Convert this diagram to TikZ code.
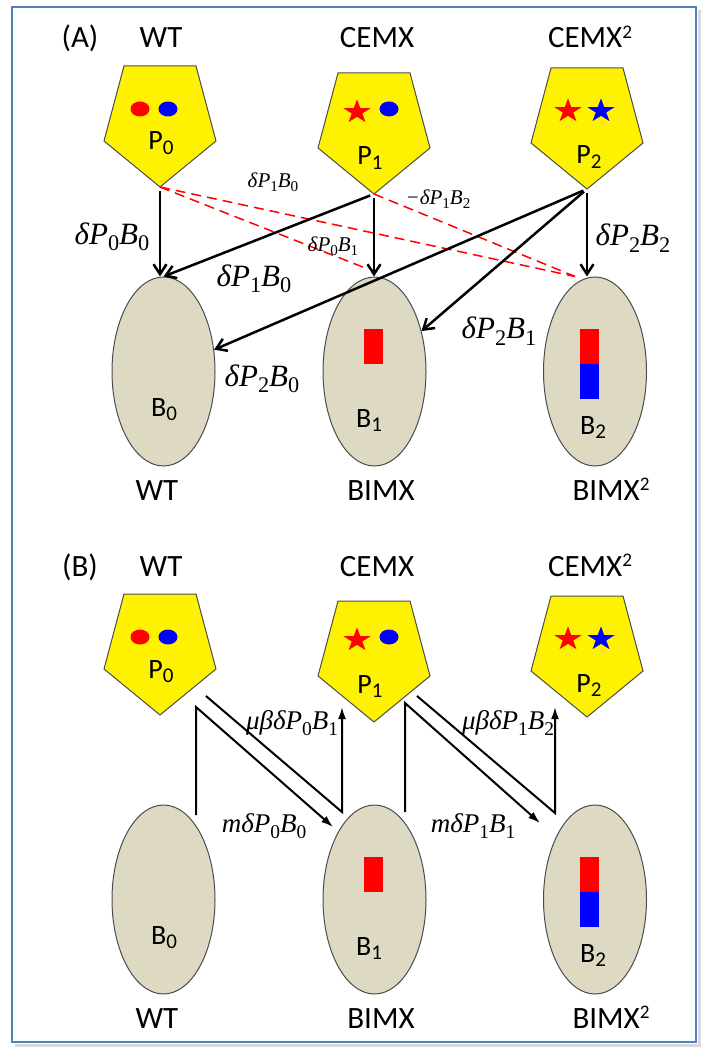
\documentclass[tikz,border=0pt]{standalone}
\usepackage{fontspec}
\setmainfont{Carlito}
\newfontfamily\tms{Liberation Serif}
\usepackage{tikz}
\usetikzlibrary{shapes.geometric, arrows.meta, positioning, calc}
\definecolor{framebl}{RGB}{79,129,189}
\definecolor{khaki}{RGB}{221,217,195}
\tikzset{>={Straight Barb[length=5pt,width=6.5pt]}}
\newcommand{\sbs}[1]{\raisebox{-0.45ex}{\upshape\scalebox{0.72}{#1}}}
\newcommand{\sqr}{\raisebox{0.62ex}{\scalebox{0.62}{2}}}
\newcommand{\plo}[1]{\raisebox{-0.35ex}{\scalebox{0.75}{#1}}}

\begin{document}
\begin{tikzpicture}[x=0.5pt,y=-0.5pt,
    head/.style={font=\fontsize{15.5}{18}\selectfont, anchor=base},
    plab/.style={font=\fontsize{14}{16}\selectfont, anchor=base},
    pent/.style={fill=yellow, draw=black!70, line width=0.5pt},
    bell/.style={ellipse, fill=khaki, draw=black!70, line width=0.5pt, inner sep=0pt,
                 minimum width=51.5pt, minimum height=94.5pt},
    spot/.style={ellipse, inner sep=0pt, minimum width=9.5pt, minimum height=7.5pt},
    spark/.style={star, star points=5, star point ratio=2.6, inner sep=0pt,
                  minimum size=12.5pt, xscale=1.15},
    ratebig/.style={font=\tms\itshape\fontsize{15.5}{18}\selectfont},
    ratesmall/.style={font=\tms\itshape\fontsize{10.5}{12}\selectfont},
    ratemid/.style={font=\tms\itshape\fontsize{13.5}{16}\selectfont},
    flow/.style={->, line width=1.25pt, shorten <=2pt},
    leak/.style={red, dash pattern=on 5pt off 3pt, line width=0.75pt},
    hop/.style={-{Latex[length=6pt,width=4pt]}, line width=1pt}]
    \useasboundingbox (0,0) rectangle (707,1058);
    % frame
    \draw[black!15, line width=1.5pt] (15,1045) -- (699,1045) -- (699,10);
    \draw[framebl, line width=1pt] (12,7) rectangle (696,1042);

    \foreach \pn/\dy/\lt in {a/0/A, b/528/B}{
    \begin{scope}[shift={(0,\dy)}]
        \node[head] (lt\pn) at (80,48) {(\lt)};
        \node[head] (wt\pn) at (161,48) {WT};
        \node[head] (cemx\pn) at (377,48) {CEMX};
        \node[head] (cemxx\pn) at (590,48) {CEMX\sqr};
        % pentagons
        \draw[pent] (124,66) -- (196,66) -- (216,141) -- (160,187) coordinate (p0\pn) -- (104,141) -- cycle;
        \draw[pent] (338,73) -- (410,73) -- (430,148) -- (374,194) coordinate (p1\pn) -- (318,148) -- cycle;
        \draw[pent] (551,68) -- (623,68) -- (643,143) -- (587,189) coordinate (p2\pn) -- (531,143) -- cycle;
        \node[spot, fill=red] (r0\pn) at (140,109) {};
        \node[spot, fill=blue] (g0\pn) at (168,109) {};
        \node[spark, fill=red] (r1\pn) at (357,112) {};
        \node[spot, fill=blue] (g1\pn) at (389,109) {};
        \node[spark, fill=red] (r2\pn) at (568,111) {};
        \node[spark, fill=blue] (g2\pn) at (601,111) {};
        \node[plab] (l0\pn) at (161,150) {P\plo{0}};
        \node[plab] (l1\pn) at (370,165) {P\plo{1}};
        \node[plab] (l2\pn) at (589,164) {P\plo{2}};
        % bells
        \node[bell] (b0\pn) at (163.5,371.5) {};
        \node[bell] (b1\pn) at (374.5,371.5) {};
        \node[bell] (b2\pn) at (595,371.5) {};
        \fill[red] (364,329) rectangle (383,364);
        \fill[red] (580,329) rectangle (599,364);
        \fill[blue] (580,364) rectangle (599,399);
        \node[plab] (k0\pn) at (164,416) {B\plo{0}};
        \node[plab] (k1\pn) at (369,427) {B\plo{1}};
        \node[plab] (k2\pn) at (593,434) {B\plo{2}};
        \node[head] (bwt\pn) at (157,500) {WT};
        \node[head] (bimx\pn) at (381,500) {BIMX};
        \node[head] (bimxx\pn) at (611,500) {BIMX\sqr};
    \end{scope}
    }

    % (A) direct production
    \draw[leak] (p0a) -- ([xshift=-4pt,yshift=4pt]b1a.north);
    \draw[leak] (p0a) -- ([xshift=-10pt]b2a.north);
    \draw[leak] (p1a) -- ([xshift=-10pt]b2a.north);
    \draw[flow] (p0a) -- (p0a |- b0a.north);
    \draw[flow] (p1a) -- (b0a.north);
    \draw[flow] (p1a) -- (p1a |- b1a.north);
    \draw[flow] (p2a) -- (b0a);
    \draw[flow] (p2a) -- (b1a);
    \draw[flow] (p2a) -- (p2a |- b2a.north);
    \node[ratebig] (d00) at (112,237) {δP\sbs{0}B\sbs{0}};
    \node[ratesmall] (d10u) at (273,182) {δP\sbs{1}B\sbs{0}};
    \node[ratesmall] (d12) at (438,199) {−δP\sbs{1}B\sbs{2}};
    \node[ratesmall] (d01) at (333,246) {δP\sbs{0}B\sbs{1}};
    \node[ratebig] (d22) at (633,238) {δP\sbs{2}B\sbs{2}};
    \node[ratebig] (d10) at (254,279) {δP\sbs{1}B\sbs{0}};
    \node[ratebig] (d21) at (499,331) {δP\sbs{2}B\sbs{1}};
    \node[ratebig] (d20) at (262,379) {δP\sbs{2}B\sbs{0}};

    % (B) stepwise
    \coordinate (m0s) at (196,815);
    \coordinate (m0c) at (196,707);
    \coordinate (m0e) at (333,827);
    \coordinate (u0s) at (206,696);
    \coordinate (u0c) at (342,812);
    \coordinate (u0e) at (342,707);
    \coordinate (m1s) at (405,812);
    \coordinate (m1c) at (405,703);
    \coordinate (m1e) at (540,823);
    \coordinate (u1s) at (417,696);
    \coordinate (u1c) at (555,813);
    \coordinate (u1e) at (555,707);
    \draw[hop] (m0s) -- (m0c) -- (m0e);
    \draw[hop] (u0s) -- (u0c) -- (u0e);
    \draw[hop] (m1s) -- (m1c) -- (m1e);
    \draw[hop] (u1s) -- (u1c) -- (u1e);
    \node[ratemid] (u01) at (292,723) {μβδP\sbs{0}B\sbs{1}};
    \node[ratemid] (m00) at (264,826) {mδP\sbs{0}B\sbs{0}};
    \node[ratemid] (u12) at (508,723) {μβδP\sbs{1}B\sbs{2}};
    \node[ratemid] (m11) at (473,826) {mδP\sbs{1}B\sbs{1}};
\end{tikzpicture}
\end{document}
